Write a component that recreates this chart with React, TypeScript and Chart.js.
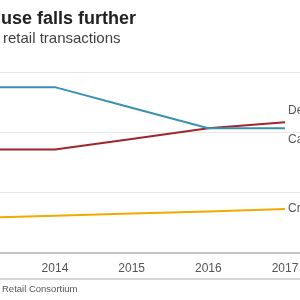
import React, { useEffect, useRef } from "react";
import { Chart, registerables } from "chart.js";

Chart.register(...registerables);

// Share of retail transactions (%), by year
const years = [2013, 2014, 2015, 2016, 2017];
const cashShare = [55, 55, 48.2, 41.4, 41.4];
const debitShare = [34.3, 34.3, 37.8, 41.4, 43.4];
const creditShare = [11.7, 12.4, 13.1, 13.8, 14.6];
const yTickValues = [0, 20, 40, 60];
const xTickValues = [2014, 2015, 2016, 2017];

const titleText = "Cash use falls further";
const titleHidden = "Cash ";
const subtitleText = "Share of retail transactions";
const subtitleHidden = "Share of ";
const sourceText = "Source: British Retail Consortium";
const sourceHidden = "Source: British ";

const FONT = "Helvetica, Arial, 'Liberation Sans', sans-serif";

const series = [
  { label: "Cash", values: cashShare, color: "#3a8fb5", labelDy: 11 },
  { label: "Debit", values: debitShare, color: "#a2242b", labelDy: -11 },
  { label: "Credit", values: creditShare, color: "#f2a900", labelDy: 0 },
];

const annotations = {
  id: "annotations",
  afterDraw(chart: any) {
    const { ctx, width } = chart;
    const xs = chart.scales.x;
    const ys = chart.scales.y;
    ctx.save();
    ctx.textBaseline = "alphabetic";
    ctx.textAlign = "left";

    // Title and subtitle
    ctx.fillStyle = "#222222";
    ctx.font = `bold 18px ${FONT}`;
    ctx.fillText(titleText, 1 - ctx.measureText(titleHidden).width, 24);
    ctx.fillStyle = "#404040";
    ctx.font = `15px ${FONT}`;
    ctx.fillText(subtitleText, 3 - ctx.measureText(subtitleHidden).width, 42.5);

    // Source rule and text
    ctx.strokeStyle = "#cccccc";
    ctx.lineWidth = 1.5;
    ctx.beginPath();
    ctx.moveTo(0, 279);
    ctx.lineTo(width, 279);
    ctx.stroke();
    ctx.fillStyle = "#555555";
    ctx.font = `9.5px ${FONT}`;
    ctx.fillText(sourceText, 2 - ctx.measureText(sourceHidden).width, 291.5);

    // Series labels at line ends
    ctx.font = `12px ${FONT}`;
    ctx.fillStyle = "#555555";
    ctx.textBaseline = "middle";
    series.forEach((s) => {
      const last = s.values.length - 1;
      const px = xs.getPixelForValue(years[last]) + 3;
      const py = ys.getPixelForValue(s.values[last]) + s.labelDy;
      ctx.fillText(s.label, px, py);
    });
    ctx.restore();
  },
};

export default function App() {
  const canvasRef = useRef<HTMLCanvasElement | null>(null);

  useEffect(() => {
    const canvas = canvasRef.current;
    if (!canvas) return;
    const chart = new Chart(canvas, {
      type: "line",
      data: {
        datasets: series.map((s) => ({
          label: s.label,
          data: years.map((y, i) => ({ x: y, y: s.values[i] })),
          borderColor: s.color,
          backgroundColor: s.color,
          borderWidth: 2,
          pointRadius: 0,
          tension: 0,
          fill: false,
        })),
      },
      options: {
        responsive: false,
        animation: false,
        devicePixelRatio: 1,
        layout: { padding: { top: 60, bottom: 16.5, left: 0, right: 0 } },
        plugins: {
          legend: { display: false },
          tooltip: { enabled: false },
          title: { display: false },
        },
        scales: {
          x: {
            type: "linear",
            min: 2013.283,
            max: 2017.196,
            afterBuildTicks: (scale: any) => {
              scale.ticks = xTickValues.map((v) => ({ value: v }));
            },
            afterFit: (scale: any) => {
              scale.paddingLeft = 0;
              scale.paddingRight = 0;
            },
            grid: { display: false, drawTicks: false },
            border: { display: true, color: "#c4c4c4", width: 2 },
            ticks: {
              padding: 8,
              color: "#555555",
              font: { family: FONT, size: 12 },
              maxRotation: 0,
              autoSkip: false,
              callback: (v: any) => String(v),
            },
          },
          y: {
            min: 0,
            max: 64,
            afterBuildTicks: (scale: any) => {
              scale.ticks = yTickValues.map((v) => ({ value: v }));
            },
            afterFit: (scale: any) => {
              scale.paddingTop = 0;
              scale.paddingBottom = 0;
            },
            grid: { color: "#e6e6e6", lineWidth: 1, drawTicks: false },
            border: { display: false },
            ticks: { display: false },
          },
        },
      },
      plugins: [annotations],
    });
    return () => chart.destroy();
  }, []);

  return (
    <div style={{ position: "fixed", left: 0, top: 0, width: 300, height: 300, background: "#ffffff" }}>
      <canvas ref={canvasRef} width={300} height={300} style={{ display: "block" }} />
    </div>
  );
}
